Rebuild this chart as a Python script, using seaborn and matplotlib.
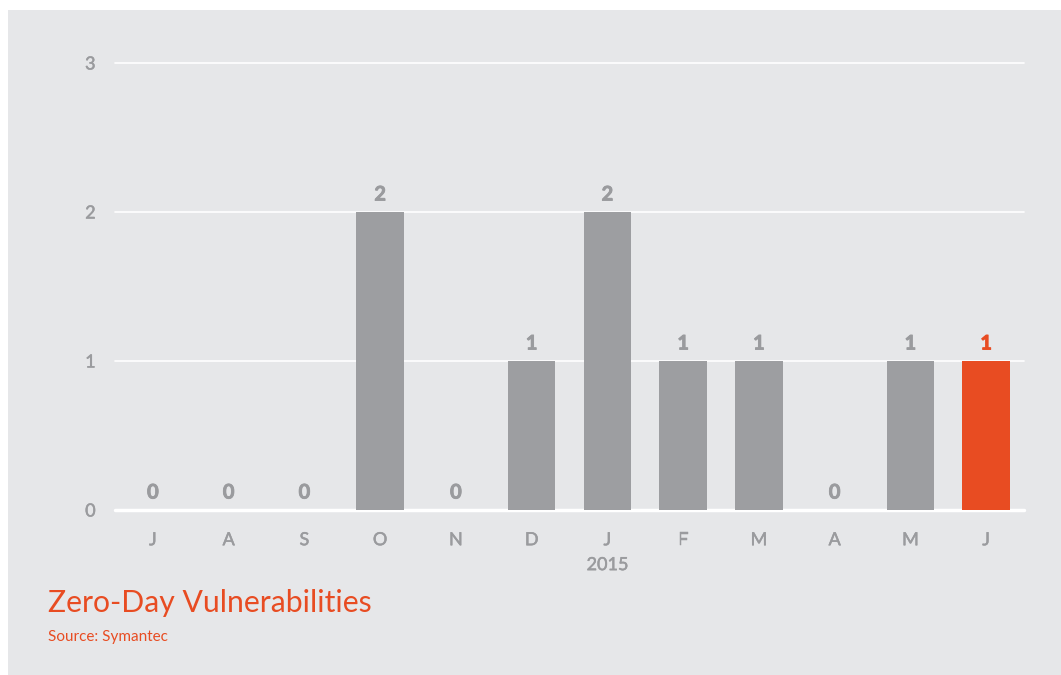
import seaborn as sns
import matplotlib.pyplot as plt
import matplotlib.patheffects as pe
import pandas as pd
from matplotlib.patches import Rectangle

months = ['J', 'A', 'S', 'O', 'N', 'D', 'J', 'F', 'M', 'A', 'M', 'J']
counts = [0, 0, 0, 2, 0, 1, 2, 1, 1, 0, 1, 1]
highlight = [False] * 11 + [True]
year_label = '2015'
year_index = 6
y_ticks = [0, 1, 2, 3]

BG = '#e6e7e9'
GREY = '#9d9ea1'
ORANGE = '#e84c22'
TEXT = '#9a9b9e'

sns.set_style('white')
plt.rcParams['font.family'] = ['Lato', 'DejaVu Sans']

data = pd.DataFrame({'pos': [str(i) for i in range(len(months))],
                     'count': counts,
                     'hl': ['hl' if h else 'base' for h in highlight]})

fig = plt.figure(figsize=(10.61, 6.75), dpi=100)
fig.patch.set_facecolor('white')
fig.patches.append(Rectangle((8 / 1061, 0), 1, (675 - 10) / 675,
                             transform=fig.transFigure, facecolor=BG,
                             edgecolor='none', zorder=-10))

ax = fig.add_axes([115 / 1061, (675 - 510) / 675, 909 / 1061, 447 / 675])
ax.set_facecolor('none')
sns.barplot(data=data, x='pos', y='count', hue='hl',
            palette={'base': GREY, 'hl': ORANGE}, width=0.63,
            saturation=1, linewidth=0,
            legend=False, ax=ax, zorder=3)

ax.set_xlim(-0.5, len(months) - 0.5)
ax.set_ylim(0, 3)
ax.set_yticks(y_ticks)
for t in y_ticks:
    ax.axhline(t, color='white', lw=2.5 if t == 0 else 1.2, zorder=1,
               clip_on=False)

for i, (c, h) in enumerate(zip(counts, highlight)):
    col = ORANGE if h else TEXT
    ax.text(i, c + 0.05, str(c), ha='center', va='bottom', fontsize=14.5,
            fontweight='bold', color=col, zorder=4,
            path_effects=[pe.withStroke(linewidth=0.6, foreground=col)])

# a thin stroke gives the medium weight of the original tick labels
thick = [pe.withStroke(linewidth=0.35, foreground=TEXT)]
ax.set_xticks(range(len(months)))
ax.set_xticklabels(months)
ax.tick_params(axis='x', length=0, pad=16, labelsize=13, labelcolor=TEXT)
ax.tick_params(axis='y', length=0, pad=14, labelsize=13, labelcolor=TEXT)
for lbl in ax.get_xticklabels() + ax.get_yticklabels():
    lbl.set_path_effects(thick)
ax.text(year_index, -0.37, year_label, ha='center', va='center',
        fontsize=13, color=TEXT, path_effects=thick,
        transform=ax.transData, clip_on=False)
ax.set_xlabel('')
ax.set_ylabel('')
sns.despine(ax=ax, left=True, bottom=True, top=True, right=True)

fig.text(48 / 1061, 1 - 603 / 675, 'Zero-Day Vulnerabilities', fontsize=21.7,
         color=ORANGE, va='center', ha='left')
fig.text(48 / 1061, 1 - 637 / 675, 'Source: Symantec', fontsize=11,
         color=ORANGE, va='center', ha='left')

fig.savefig('out.png', dpi=100, facecolor='white')
